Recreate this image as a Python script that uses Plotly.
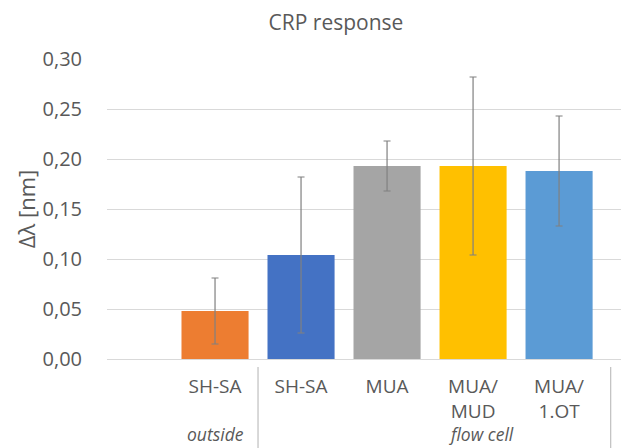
import plotly.graph_objects as go

# Data
labels = ["SH-SA", "SH-SA", "MUA", "MUA/<br>MUD", "MUA/<br>1.OT"]
groups = ["outside", "flow cell"]
values = [0.048, 0.104, 0.193, 0.193, 0.188]
errors = [0.033, 0.078, 0.025, 0.089, 0.055]
colors = ["#ED7D31", "#4472C4", "#A5A5A5", "#FFC000", "#5B9BD5"]
y_ticks = [0.00, 0.05, 0.10, 0.15, 0.20, 0.25, 0.30]

positions = list(range(1, len(values) + 1))
text_color = "#595959"
font_family = "Open Sans, sans-serif"

fig = go.Figure(
    go.Bar(
        x=positions,
        y=values,
        width=0.78,
        marker=dict(color=colors, line=dict(width=0)),
        error_y=dict(
            type="data",
            array=errors,
            visible=True,
            color="#808080",
            thickness=1.2,
            width=3.5,
        ),
        showlegend=False,
    )
)

# Group dividers below the category axis
for xd in (1.5, 5.6):
    fig.add_shape(
        type="line",
        xref="x",
        yref="paper",
        x0=xd,
        x1=xd,
        y0=-0.027,
        y1=-0.32,
        line=dict(color="#BFBFBF", width=1.2),
    )

# Group labels along the bottom edge
for name, xg in zip(groups, (1.0, 4.1)):
    fig.add_annotation(
        x=xg,
        y=-0.293,
        xref="x",
        yref="paper",
        text=f"<i>{name}</i>",
        showarrow=False,
        yanchor="bottom",
        xanchor="center",
        borderpad=0,
        font=dict(family=font_family, size=17.5, color=text_color),
    )

fig.update_layout(
    width=621,
    height=448,
    margin=dict(l=107, r=0, t=59, b=89),
    paper_bgcolor="white",
    plot_bgcolor="white",
    separators=", ",
    font=dict(family=font_family, size=19, color=text_color),
    title=dict(
        text="CRP response",
        x=336 / 621,
        xanchor="center",
        y=1 - 23 / 448,
        yanchor="middle",
        font=dict(family=font_family, size=21, color=text_color),
    ),
    xaxis=dict(
        range=[-0.256, 5.72],
        tickvals=positions,
        ticktext=labels,
        showgrid=False,
        zeroline=False,
        showline=False,
        ticks="",
        ticklabelstandoff=14,
        tickfont=dict(family=font_family, size=19, color=text_color),
    ),
    yaxis=dict(
        range=[0, 0.30],
        tickvals=y_ticks,
        tickformat=".2f",
        showgrid=True,
        gridcolor="#D9D9D9",
        gridwidth=1,
        zeroline=True,
        zerolinecolor="#D9D9D9",
        zerolinewidth=1.2,
        showline=False,
        ticks="",
        ticklabelstandoff=24,
        tickfont=dict(family=font_family, size=20, color=text_color),
        title=dict(
            text="Δλ [nm]",
            standoff=0,
            font=dict(family=font_family, size=22, color=text_color),
        ),
    ),
)

fig.write_html("out.html")
